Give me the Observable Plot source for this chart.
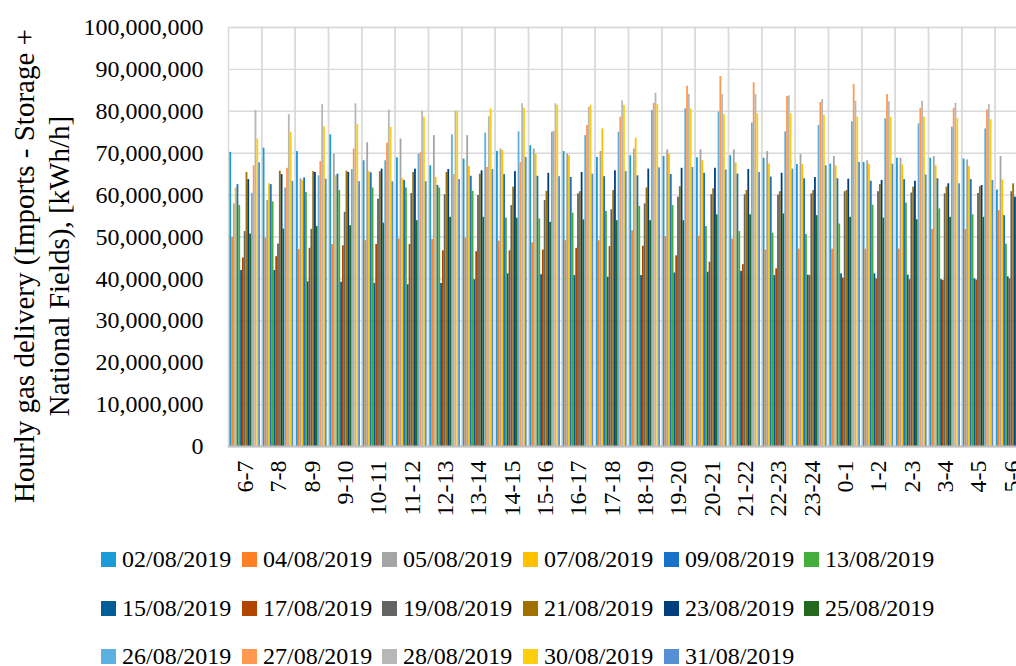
<!DOCTYPE html>
<html>
<head>
<meta charset="utf-8">
<script src="https://cdn.jsdelivr.net/npm/d3@7"></script>
<script src="https://cdn.jsdelivr.net/npm/@observablehq/plot@0.6"></script>
<style>
html, body { margin: 0; padding: 0; background: #fff; overflow: hidden; width: 1016px; height: 666px; }
#wrap { position: relative; width: 1016px; height: 666px; overflow: hidden; font-family: "Liberation Serif", serif; color: #000; }
#chart { position: absolute; left: 0; top: 0; }
#chart svg { max-width: none !important; display: block; }
#ytitle { position: absolute; width: 520px; height: 70px; left: -218px; top: 231px; transform: rotate(-90deg); transform-origin: 50% 50%; text-align: center; font-size: 29px; line-height: 35px; white-space: nowrap; }
.item { position: absolute; display: flex; align-items: center; height: 20px; line-height: 20px; font-size: 24px; white-space: nowrap; }
.sw { width: 15px; height: 15px; margin-right: 6px; flex: none; }
</style>
</head>
<body>
<div id="wrap">
  <div id="chart"></div>
  <div id="ytitle">Hourly gas delivery (Imports - Storage +<br>National Fields), [kWh/h]</div>
  <div id="legend"></div>
</div>
<script>
const hours = ["6-7","7-8","8-9","9-10","10-11","11-12","12-13","13-14","14-15","15-16","16-17","17-18","18-19","19-20","20-21","21-22","22-23","23-24","0-1","1-2","2-3","3-4","4-5","5-6"];
const dates = ["02/08/2019","04/08/2019","05/08/2019","07/08/2019","09/08/2019","13/08/2019","15/08/2019","17/08/2019","19/08/2019","21/08/2019","23/08/2019","25/08/2019","26/08/2019","27/08/2019","28/08/2019","30/08/2019","31/08/2019"];
const colors = ["#1b9bd8","#fd7f26","#a5a5a5","#ffc000","#1872c9","#44ae3a","#015d97","#b04500","#636363","#a07100","#003f7b","#22681f","#5cb1e0","#ff9952","#b7b7b7","#ffcd10","#5590d5"];

// values in millions of kWh/h, one array per date, 24 hourly values (6-7 ... 5-6)
const d0208 = [70.2,71.2,70.4,74.4,68.2,68.9,67.0,68.6,70.4,71.8,70.4,69.0,69.4,69.2,68.9,69.4,68.8,67.3,67.4,67.8,68.8,68.8,68.6,61.2];
const d0408 = [49.9,49.7,47.0,48.2,49.1,49.5,49.4,49.7,49.0,48.6,49.1,49.1,51.5,50.1,50.2,49.5,46.9,47.1,47.1,47.1,47.1,51.8,51.8,56.3];
const d0508 = [57.9,58.7,63.9,69.8,72.5,73.4,74.2,74.2,71.0,71.0,69.8,70.4,71.0,70.8,70.8,70.8,70.4,69.7,69.2,68.2,68.8,69.2,68.4,69.2];
const d0708 = [61.7,62.7,63.5,64.6,65.6,63.9,64.2,66.8,70.6,69.8,69.4,75.8,73.6,69.8,68.2,67.7,67.4,67.3,67.0,67.3,67.2,67.0,66.8,63.6];
const d0908 = [62.5,62.5,64.1,65.0,65.3,63.5,62.3,64.5,64.9,64.5,64.2,64.4,64.6,64.9,65.2,65.0,64.3,63.9,63.9,63.3,63.7,63.9,63.7,55.1];
const d1308 = [57.5,58.4,60.6,61.1,61.7,61.7,61.7,60.9,54.5,54.3,55.7,56.1,57.3,57.5,52.5,51.3,50.9,50.6,53.1,57.6,58.1,56.7,55.3,48.3];
const d1508 = [42.0,42.0,39.3,39.2,38.9,38.6,38.9,39.8,41.2,41.0,40.8,40.4,40.8,41.4,41.6,41.8,40.8,40.9,41.2,41.2,40.9,39.8,40.0,40.5];
const d1708 = [45.0,45.3,47.3,47.9,48.2,48.2,46.7,46.5,46.7,46.9,47.3,47.7,47.8,45.5,44.0,43.4,42.4,40.8,40.2,40.0,39.8,39.6,39.7,40.0];
const d1908 = [51.3,48.3,51.8,55.9,59.0,60.4,60.1,59.9,57.5,58.7,60.3,56.5,57.9,59.5,60.1,60.1,60.0,60.3,60.8,60.8,60.5,60.3,60.4,60.8];
const d2108 = [65.4,65.7,65.6,65.7,65.6,65.4,65.4,65.0,61.9,60.9,60.8,61.1,61.7,62.0,61.5,61.1,60.8,61.1,61.1,62.5,61.9,61.9,62.0,62.7];
const d2308 = [63.7,64.9,65.4,65.4,66.2,66.2,66.1,65.8,65.6,65.2,65.4,65.8,66.2,66.4,66.4,66.1,65.2,64.2,63.8,63.5,63.3,62.7,62.3,59.5];
const d2508 = [50.7,51.9,52.5,52.7,53.3,53.9,54.7,54.7,54.5,53.5,54.1,53.9,53.9,53.9,55.3,55.3,55.5,55.1,54.7,54.5,54.1,54.7,54.7,54.0];
const d2608 = [60.4,61.7,64.6,66.1,68.2,69.8,74.4,74.8,75.1,75.0,74.2,75.0,80.2,80.6,79.8,77.2,75.1,76.6,77.5,78.2,77.0,76.2,75.8,70.0];
const d2708 = [67.0,66.4,68.0,71.0,72.4,70.1,64.9,66.6,67.8,75.2,76.6,78.6,81.9,86.0,88.3,86.8,83.5,82.1,86.4,84.0,80.7,80.7,80.3,72.0];
const d2808 = [80.2,79.2,81.6,81.8,80.3,80.0,80.0,78.7,81.8,81.8,81.0,82.5,84.3,84.0,84.0,84.0,83.7,82.8,82.4,82.3,82.4,81.9,81.6,76.0];
const d3008 = [73.4,75.0,76.3,76.8,76.2,78.6,80.0,80.6,80.7,81.4,81.4,81.4,81.6,80.6,79.2,79.4,79.4,79.0,78.6,78.6,78.6,78.3,78.0,72.0];
const d3108 = [67.7,63.3,63.8,63.2,63.2,63.2,63.7,66.1,69.0,64.4,65.0,65.6,66.5,66.6,66.0,65.4,66.2,67.0,67.8,67.4,64.8,62.7,63.5,62.0];

const yTicks = [0,10000000,20000000,30000000,40000000,50000000,60000000,70000000,80000000,90000000,100000000];

const seriesValues = [d0208,d0408,d0508,d0708,d0908,d1308,d1508,d1708,d1908,d2108,d2308,d2508,d2608,d2708,d2808,d3008,d3108];
const data = dates.flatMap((d, i) => hours.map((h, j) => ({hour: h, date: d, value: seriesValues[i][j] * 1e6})));

const chart = Plot.plot({
  width: 1030,
  height: 540,
  marginLeft: 228,
  marginRight: 2,
  marginTop: 27,
  marginBottom: 94,
  style: {fontFamily: "Liberation Serif, serif", fontSize: "24px", color: "#000", background: "transparent", overflow: "visible"},
  fx: {domain: hours, padding: 0, round: false, axis: "bottom", label: null, tickSize: 0, tickPadding: 14, tickRotate: -90},
  x: {domain: dates, paddingInner: 0, paddingOuter: 0.75, round: false, axis: null},
  y: {domain: [0, 100000000], ticks: yTicks, tickFormat: d3.format(","), tickSize: 0, tickPadding: 25, label: null},
  color: {domain: dates, range: colors},
  marks: [
    Plot.gridY(yTicks, {stroke: "#d9d9d9", strokeOpacity: 1, strokeWidth: 1.4}),
    Plot.frame({stroke: "#d9d9d9", strokeWidth: 1.4}),
    Plot.barY(data, {fx: "hour", x: "date", y: "value", fill: "date"}),
    Plot.ruleY([0], {stroke: "#bfbfbf", strokeWidth: 2})
  ]
});
document.getElementById("chart").appendChild(chart);

// legend
const legend = document.getElementById("legend");
const colX = [101, 242, 382, 523, 664, 804];
const rowY = [559, 608, 656];
dates.forEach((d, i) => {
  const item = document.createElement("div");
  item.className = "item";
  item.style.left = colX[i % 6] + "px";
  item.style.top = (rowY[Math.floor(i / 6)] - 10) + "px";
  const sw = document.createElement("span");
  sw.className = "sw";
  sw.style.background = colors[i];
  const t = document.createElement("span");
  t.textContent = d;
  item.appendChild(sw);
  item.appendChild(t);
  legend.appendChild(item);
});
</script>
</body>
</html>
